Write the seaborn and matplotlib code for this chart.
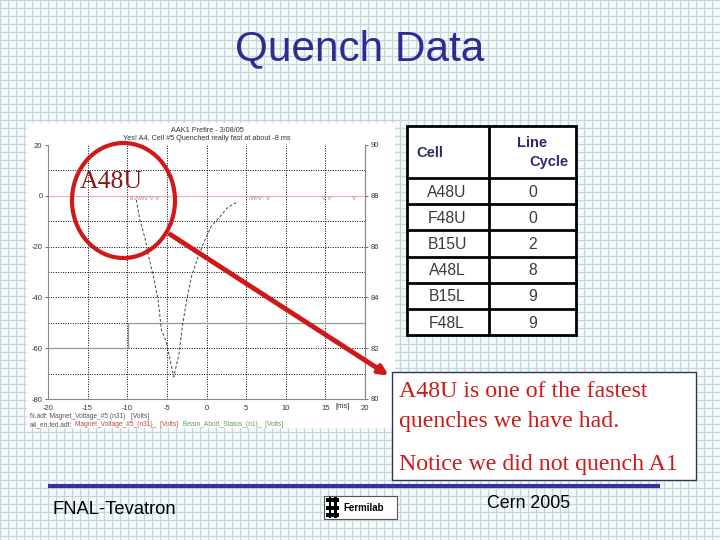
import numpy as np
import matplotlib
matplotlib.use('Agg')
from matplotlib import pyplot as plt
from matplotlib.patches import Rectangle, Ellipse, FancyArrowPatch
import seaborn as sns

# quench trace (ms, volts)
quench_ms = [-8.85, -8.4, -7.7, -7.4, -6.7, -6.1, -5.7, -5.1, -4.6, -4.13,
             -3.45, -3.05, -2.5, -1.9, -1.05, -0.2, 0.6, 1.7, 2.7, 4.0]
quench_v = [-1.6, -9.5, -17.4, -22.6, -31.8, -41.0, -52.7, -57.3, -64.5, -71.3,
            -61.9, -51.4, -41.0, -31.8, -23.9, -17.4, -12.0, -8.2, -4.5, -2.3]
abort_ms = [-20, -9.9, -9.9, 20]
abort_v = [-60, -60, -50, -50]
flat_ms = [-20, 20]
flat_v = [0, 0]
x_ticks = [-20, -15, -10, -5, 0, 5, 10, 15, 20]
left_ticks = [20, 0, -20, -40, -60, -80]
right_ticks = [80, 82, 84, 86, 88, 90]

cells = ['A48U', 'F48U', 'B15U', 'A48L', 'B15L', 'F48L']
line_cycle = [0, 0, 2, 8, 9, 9]

sns.set_style('white')
plt.rcParams['font.family'] = ['Liberation Sans', 'DejaVu Sans']

fig = plt.figure(figsize=(7.2, 5.4), dpi=100)
fig.patch.set_facecolor('#f5fbfc')

# graph-paper background in pixel coordinates
bg = fig.add_axes([0, 0, 1, 1])
bg.set_xlim(0, 720)
bg.set_ylim(540, 0)
bg.set_axis_off()
for g in np.arange(0, 721, 8):
    bg.axvline(g, color='#c5d6d9', lw=0.9, zorder=0)
for g in np.arange(0, 541, 8):
    bg.axhline(g, color='#c5d6d9', lw=0.9, zorder=0)

# white pasted scope image
bg.add_patch(Rectangle((27, 123), 368, 305, facecolor='white', edgecolor='none', zorder=1))

bg.text(360, 49, 'Quench Data', fontsize=30.5, color='#2d2d8f', ha='center', va='center')

# scope title + legend lines
bg.text(207, 130.5, 'AAK1 Prefire - 3/08/05', fontsize=5.2, color='#333333', ha='center', va='center', zorder=3)
bg.text(207, 138, 'Yes! A4, Cell #5 Quenched really fast at about -8 ms', fontsize=5.2,
        color='#333333', ha='center', va='center', zorder=3)
bg.text(30, 416, 'N.adf: Magnet_Voltage_#5 (n31)   [Volts]', fontsize=4.8, color='#555555', va='center', zorder=3)
bg.text(30, 424.5, 'a4_en.fed.adf:', fontsize=4.8, color='#555555', va='center', zorder=3)
bg.text(75, 424.5, 'Magnet_Voltage_#5_(n31)_  [Volts]', fontsize=4.8, color='#c04848', va='center', zorder=3)
bg.text(183, 424.5, 'Beam_Abort_Status_(n1)_  [Volts]', fontsize=4.8, color='#5f9a5f', va='center', zorder=3)

# table
tx0, tx1, tcol = 407, 576, 489
ty0, head_h, row_h = 126, 52, 26.2
ty1 = ty0 + head_h + row_h * len(cells)
bg.add_patch(Rectangle((tx0, ty0), tx1 - tx0, ty1 - ty0, facecolor='white',
                       edgecolor='black', lw=2, zorder=3))
bg.plot([tcol, tcol], [ty0, ty1], color='black', lw=2, zorder=4)
for i in range(len(cells)):
    yy = ty0 + head_h + row_h * i
    bg.plot([tx0, tx1], [yy, yy], color='black', lw=2, zorder=4)
    bg.text((tx0 + tcol) / 2 - 1, yy + row_h / 2 + 1, cells[i], fontsize=11.3, color='#3a3a3a',
            ha='center', va='center', zorder=5)
    bg.text((tcol + tx1) / 2, yy + row_h / 2 + 1, str(line_cycle[i]), fontsize=11.3, color='#3a3a3a',
            ha='center', va='center', zorder=5)
bg.text(416, 153, 'Cell', fontsize=10.5, fontweight='bold', color='#2a2a72', va='center', zorder=5)
bg.text(532, 143, 'Line', fontsize=10.5, fontweight='bold', color='#2a2a72', ha='center', va='center', zorder=5)
bg.text(549, 162, 'Cycle', fontsize=10.5, fontweight='bold', color='#2a2a72', ha='center', va='center', zorder=5)

# text box
bg.add_patch(Rectangle((392, 372), 304, 108, facecolor='white', edgecolor='#333355', lw=1, zorder=3))
for txt, yb in [('A48U is one of the fastest', 397), ('quenches we have had.', 427),
                ('Notice we did not quench A1', 470)]:
    bg.text(399, yb, txt, fontsize=17.2, family=['Liberation Serif', 'DejaVu Serif'],
            color='#cc1a1a', va='baseline', zorder=5)

# footer
bg.plot([48, 660], [485.5, 485.5], color='#33339a', lw=3, solid_capstyle='butt')
bg.text(53, 510, 'FNAL-Tevatron', fontsize=13.2, color='black', va='center')
bg.text(487, 503, 'Cern 2005', fontsize=12.8, color='black', va='center')
bg.add_patch(Rectangle((324, 496), 73, 23, facecolor='white', edgecolor='#555555', lw=0.8))
for yy in [498, 505.5, 513]:
    bg.add_patch(Rectangle((326, yy), 13, 4, facecolor='black', edgecolor='none'))
for xx in [328.5, 334]:
    bg.add_patch(Rectangle((xx, 497), 2.5, 21, facecolor='black', edgecolor='none'))
bg.text(343, 508, 'Fermilab', fontsize=7, fontweight='bold', color='black', va='center')

# scope chart
ax = fig.add_axes([48 / 720, 1 - 399 / 540, 317 / 720, 254 / 540])
ax.set_facecolor('none')
for xv in x_ticks[1:-1]:
    ax.axvline(xv, color='black', lw=0.7, ls=(0, (1, 1.5)), zorder=1)
for yv in range(-70, 20, 10):
    ax.axhline(yv, color='black', lw=0.7, ls=(0, (1, 1.5)), zorder=1)
sns.lineplot(x=flat_ms, y=flat_v, ax=ax, color='#e8b4b4', lw=0.9, estimator=None, zorder=2)
sns.lineplot(x=abort_ms, y=abort_v, ax=ax, color='#8a9e8a', lw=0.9, sort=False, estimator=None, zorder=2)
sns.lineplot(x=quench_ms, y=quench_v, ax=ax, color='#444444', lw=0.7, ls=(0, (3, 2)),
             sort=False, estimator=None, zorder=3)
for xs, s in [(-9.7, '0.ΛWV V V'), (5.3, '/W/V\'  V'), (14.6, 'V V'), (18.3, 'V')]:
    ax.text(xs, -1.2, s, fontsize=4.2, color='#b07a7a', va='center')
ax.text(17.2, -81.5, '[ms]', fontsize=5.5, color='#333333', va='top', ha='center', clip_on=False)
ax.set_xlim(-20, 20)
ax.set_ylim(-80, 20)
ax.set_xticks(x_ticks)
ax.set_xticklabels([str(v) for v in x_ticks])
ax.set_yticks(left_ticks)
ax.set_yticklabels([str(v) for v in left_ticks])
ax.tick_params(labelsize=5.5, length=2, width=0.6, colors='#555555', labelcolor='#333333', pad=2)
for side in ['left', 'bottom', 'right']:
    ax.spines[side].set_color('#888888')
    ax.spines[side].set_linewidth(0.8)
ax.spines['top'].set_visible(False)
ax.set_xlabel('')
ax.set_ylabel('')

ax2 = ax.twinx()
ax2.set_ylim(80, 90)
ax2.set_yticks(right_ticks)
ax2.set_yticklabels([str(v) for v in right_ticks])
ax2.tick_params(labelsize=5.5, length=2, width=0.6, colors='#555555', labelcolor='#333333', pad=2)
for side in ['left', 'bottom', 'top']:
    ax2.spines[side].set_visible(False)
ax2.spines['right'].set_color('#888888')
ax2.spines['right'].set_linewidth(0.8)

# overlay annotations in pixel coordinates
ov = fig.add_axes([0, 0, 1, 1])
ov.set_xlim(0, 720)
ov.set_ylim(540, 0)
ov.set_axis_off()
ov.patch.set_alpha(0)
ov.add_patch(Ellipse((123.5, 200.5), 103, 115, fill=False, edgecolor='#d01818', lw=3))
ov.text(80, 182, 'A48U', fontsize=18.5, family=['Liberation Serif', 'DejaVu Serif'],
        color='#8b1414', va='center')
ov.add_patch(FancyArrowPatch((168, 233), (391, 377), arrowstyle='-|>', mutation_scale=13,
                             lw=3.5, color='#d01818'))

fig.savefig('out.png', dpi=100, facecolor=fig.get_facecolor())
